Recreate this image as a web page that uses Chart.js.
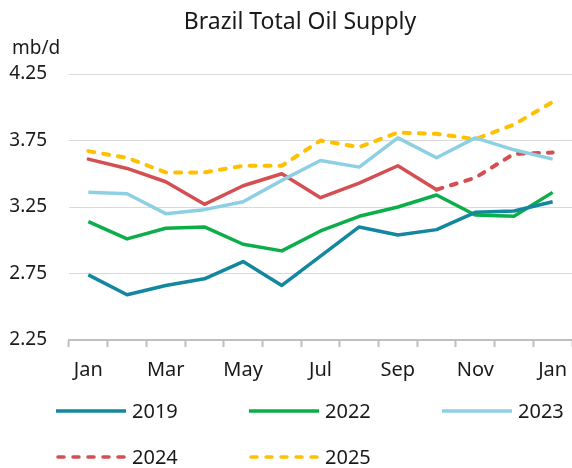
<!DOCTYPE html>
<html>
<head>
<meta charset="utf-8">
<script src="https://cdn.jsdelivr.net/npm/chart.js@4"></script>
<style>
  html, body { margin: 0; padding: 0; background: #fff; }
  #wrap { width: 572px; height: 468px; }
</style>
</head>
<body>
<div id="wrap"><canvas id="oilChart" width="572" height="468"></canvas></div>
<script>
// categories: Jan .. Dec, then Jan again
const months = ['Jan', 'Feb', 'Mar', 'Apr', 'May', 'Jun', 'Jul', 'Aug', 'Sep', 'Oct', 'Nov', 'Dec', 'Jan'];
const yTicks = [2.25, 2.75, 3.25, 3.75, 4.25];

// mb/d
const y2019 = [2.74, 2.59, 2.66, 2.71, 2.84, 2.66, 2.88, 3.10, 3.04, 3.08, 3.21, 3.22, 3.29];
const y2022 = [3.14, 3.01, 3.09, 3.10, 2.97, 2.92, 3.07, 3.18, 3.25, 3.34, 3.19, 3.18, 3.36];
const y2023 = [3.36, 3.35, 3.20, 3.23, 3.29, 3.45, 3.60, 3.55, 3.77, 3.62, 3.77, 3.68, 3.61];
const y2024 = [3.61, 3.54, 3.44, 3.27, 3.41, 3.50, 3.32, 3.43, 3.56, 3.38, 3.47, 3.65, 3.66];
const y2025 = [3.67, 3.62, 3.51, 3.51, 3.56, 3.56, 3.75, 3.70, 3.81, 3.80, 3.76, 3.87, 4.04];

const FONT = '"Noto Sans", "Open Sans", sans-serif';
const dash = [6, 9];

function lineSet(label, data, color, extra) {
    return Object.assign({
        label: label,
        data: data,
        borderColor: color,
        backgroundColor: color,
        borderWidth: 3.5,
        pointRadius: 0,
        tension: 0,
        borderJoinStyle: 'round',
        fill: false
    }, extra || {});
}

// title, unit label and a 3-column legend drawn onto the canvas
const decorPlugin = {
    id: 'decor',
    afterDraw(chart) {
        const ctx = chart.ctx;
        ctx.save();
        ctx.fillStyle = '#1a1a1a';
        ctx.textBaseline = 'alphabetic';

        ctx.font = '23px ' + FONT;
        ctx.textAlign = 'center';
        ctx.fillText('Brazil Total Oil Supply', 300, 29);

        ctx.font = '19px ' + FONT;
        ctx.textAlign = 'left';
        ctx.fillText('mb/d', 12, 54);

        ctx.font = '20px ' + FONT;
        ctx.textBaseline = 'middle';
        chart.data.datasets.forEach(function (ds, i) {
            const x0 = 56 + (i % 3) * 193;
            const y = 411 + Math.floor(i / 3) * 46;
            ctx.beginPath();
            ctx.strokeStyle = ds.borderColor;
            ctx.lineWidth = 3.5;
            ctx.lineCap = ds.legendDash ? 'round' : 'butt';
            ctx.setLineDash(ds.legendDash || []);
            ctx.moveTo(x0 + (ds.legendDash ? 2 : 0), y);
            ctx.lineTo(x0 + 70, y);
            ctx.stroke();
            ctx.setLineDash([]);
            ctx.fillStyle = '#1a1a1a';
            ctx.fillText(ds.label, x0 + 76, y + 1);
        });
        ctx.restore();
    }
};

const ctx = document.getElementById('oilChart').getContext('2d');
const oilChart = new Chart(ctx, {
    type: 'line',
    data: {
        labels: months,
        datasets: [
            lineSet('2019', y2019, '#12879f'),
            lineSet('2022', y2022, '#0cae4a'),
            lineSet('2023', y2023, '#8dd0e3'),
            lineSet('2024', y2024, '#d44f52', {
                borderCapStyle: 'round',
                legendDash: dash,
                segment: {
                    borderDash: c => c.p0DataIndex >= 9 ? dash : undefined,
                    borderWidth: c => c.p0DataIndex >= 9 ? 4 : undefined
                }
            }),
            lineSet('2025', y2025, '#ffc000', {
                borderCapStyle: 'round',
                borderDash: dash,
                borderWidth: 4,
                legendDash: dash
            })
        ]
    },
    options: {
        responsive: false,
        animation: false,
        layout: { padding: { top: 74, right: 0, bottom: 0, left: 0 } },
        plugins: {
            legend: { display: false },
            title: { display: false },
            tooltip: { enabled: false }
        },
        scales: {
            x: {
                offset: true,
                grid: {
                    display: true,
                    drawOnChartArea: false,
                    drawTicks: true,
                    tickLength: 7,
                    tickWidth: 2,
                    color: '#bfbfbf',
                    offset: true
                },
                border: { display: true, color: '#bfbfbf', width: 2 },
                ticks: {
                    autoSkip: false,
                    maxRotation: 0,
                    padding: 11,
                    color: '#1a1a1a',
                    font: { family: FONT, size: 20 },
                    callback: function (value, index) {
                        return index % 2 === 0 ? months[index] : '';
                    }
                },
                afterFit: function (scale) {
                    scale.height = 128;
                    scale.paddingLeft = 0;
                    scale.paddingRight = 0;
                }
            },
            y: {
                min: 2.25,
                max: 4.25,
                grid: { color: '#d9d9d9', lineWidth: 1, drawTicks: false },
                border: { display: false },
                ticks: {
                    padding: 22,
                    color: '#1a1a1a',
                    font: { family: FONT, size: 19 },
                    callback: function (value) { return Number(value).toFixed(2); }
                },
                afterBuildTicks: function (scale) {
                    scale.ticks = yTicks.map(v => ({ value: v }));
                },
                afterFit: function (scale) { scale.width = 69; }
            }
        }
    },
    plugins: [decorPlugin]
});
</script>
</body>
</html>
